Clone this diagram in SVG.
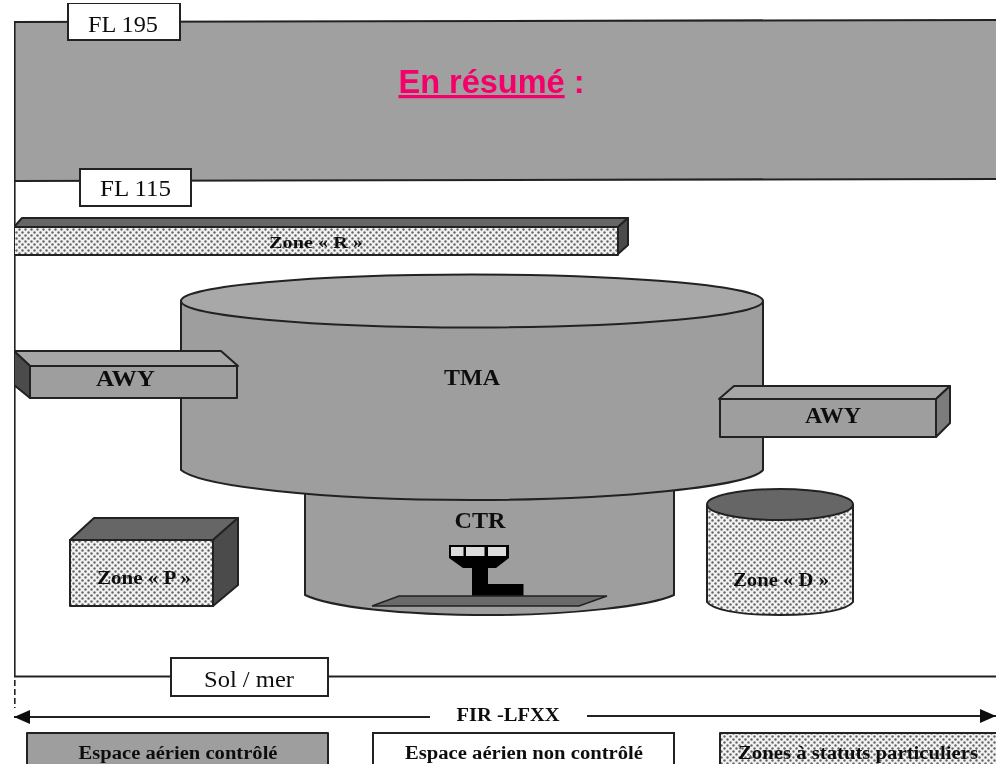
<svg xmlns="http://www.w3.org/2000/svg" width="996" height="764" viewBox="0 0 996 764">
<style>
text{font-family:"Liberation Serif",serif;fill:#111;text-anchor:middle}
.b{font-weight:bold}
.l{fill:#fff;stroke:#222;stroke-width:2}
.g{fill:#a6a6a6;stroke:#222;stroke-width:2;stroke-linejoin:round}
.d{fill:#666;stroke:#222;stroke-width:2;stroke-linejoin:round}
.k{fill:#4c4c4c;stroke:#222;stroke-width:2;stroke-linejoin:round}
.m{fill:#9e9e9e;stroke:#222;stroke-width:2;stroke-linejoin:round}
.p{fill:url(#dots);stroke:#222;stroke-width:2;stroke-linejoin:round}
.c{fill:none;stroke:#222;stroke-width:2.200}
</style>
<defs>
<pattern id="dots" width="6" height="6" patternUnits="userSpaceOnUse">
<rect width="6" height="6" fill="#f2f2f2"/>
<circle cx="1.5" cy="1.5" r="1.2" fill="#666"/>
<circle cx="4.5" cy="4.5" r="1.2" fill="#666"/>
</pattern>
<marker id="ah" markerUnits="userSpaceOnUse" markerWidth="18" markerHeight="16" refX="16" refY="7" orient="auto-start-reverse">
<path d="M0 0L16 7L0 14Z" fill="#111"/>
</marker>
<filter id="soft" x="0" y="0" width="100%" height="100%"><feGaussianBlur stdDeviation="0.45"/></filter>
</defs>
<rect width="996" height="764" fill="#fff"/>
<g filter="url(#soft)">
<g id="upper-airspace">
<path d="M14 22L996 20V179L14 181Z" fill="#a0a0a0"/>
<path class="c" d="M14.500 677V22L996 20M14 181L996 179"/>
<path d="M14.500 680V708" fill="none" stroke="#222" stroke-width="2.200" stroke-dasharray="6 3"/>
</g>

<g id="connectors">
<path class="c" d="M14 676.500H996"/>
<path class="c" d="M430 717H14" marker-end="url(#ah)"/>
<path class="c" d="M587 716H996" marker-end="url(#ah)"/>
</g>

<g id="title"><text x="491.500" y="93" style="font-family:'Liberation Sans',sans-serif;font-weight:bold;font-size:32.500px;fill:#f5006a"><tspan text-decoration="underline">En résumé</tspan> :</text></g>

<g id="fl195"><rect class="l" x="68" y="3" width="112" height="37"/><text x="123" y="31.500" font-size="23" textLength="70" lengthAdjust="spacingAndGlyphs">FL 195</text></g>
<g id="fl115"><rect class="l" x="80" y="169" width="111" height="37"/><text x="135.500" y="196" font-size="23" textLength="71" lengthAdjust="spacingAndGlyphs">FL 115</text></g>

<g id="zone-r">
<path class="d" d="M14 227L22 218H628L618 227Z"/>
<path class="k" d="M618 227L628 218V245L618 254Z"/>
<rect class="p" x="14" y="227" width="604" height="28"/>
<text class="b" x="316" y="247.500" font-size="16.500" textLength="94" lengthAdjust="spacingAndGlyphs">Zone « R »</text>
</g>

<g id="ctr">
<path class="m" d="M305 480V595C330 607 400 615 490 615C570 615 650 606 674 595V480Z"/>
<text class="b" x="480" y="527.500" font-size="23" textLength="51" lengthAdjust="spacingAndGlyphs">CTR</text>
<g id="tower">
<path d="M449 545H509V558L496 568H488V584H523.500V597H472V568H463L449 558Z" fill="#050505"/>
<rect x="451" y="547" width="12.500" height="9" fill="#ddd"/>
<rect x="466" y="547" width="18.500" height="9" fill="#ddd"/>
<rect x="488" y="547" width="18" height="9" fill="#ddd"/>
</g>
<path d="M372 606L399 596H607L579 606Z" fill="#6a6a6a" stroke="#222" stroke-width="1.500"/>
</g>

<g id="tma">
<path class="m" d="M181 301V470C200 486 320 500 472 500C620 500 750 486 763 470V301Z"/>
<ellipse cx="472" cy="301" rx="291" ry="26.500" fill="#a8a8a8" stroke="#222" stroke-width="2"/>
<text class="b" x="472" y="385" font-size="23" textLength="56" lengthAdjust="spacingAndGlyphs">TMA</text>
</g>

<g id="awy-left">
<path class="g" d="M14 351H221L238 366H30Z"/>
<path class="k" d="M14 351L30 366V398L14 385Z"/>
<rect class="m" x="30" y="366" width="207" height="32"/>
<text class="b" x="125.500" y="385.500" font-size="23" textLength="59" lengthAdjust="spacingAndGlyphs">AWY</text>
</g>

<g id="awy-right">
<path class="g" d="M719 399L734 386H950L936 399Z"/>
<path class="d" d="M936 399L950 386V423L936 437Z" style="fill:#7c7c7c"/>
<rect class="m" x="720" y="399" width="216" height="38"/>
<text class="b" x="833" y="423" font-size="23" textLength="56" lengthAdjust="spacingAndGlyphs">AWY</text>
</g>

<g id="zone-p">
<path class="d" d="M70 540L94 518H238L213 540Z"/>
<path class="k" d="M213 540L238 518V585L213 606Z"/>
<rect class="p" x="70" y="540" width="143" height="66"/>
<text class="b" x="144" y="584" font-size="18.500" textLength="94" lengthAdjust="spacingAndGlyphs">Zone « P »</text>
</g>

<g id="zone-d">
<path class="p" d="M707 505V602C712 609 735 615 780 615C825 615 848 609 853 602V505Z"/>
<ellipse cx="780" cy="504.500" rx="73" ry="15.500" class="d"/>
<text class="b" x="781" y="586" font-size="18.500" textLength="96" lengthAdjust="spacingAndGlyphs">Zone « D »</text>
</g>

<g id="sol-mer"><rect class="l" x="171" y="658" width="157" height="38"/><text x="249" y="686.500" font-size="23" textLength="90" lengthAdjust="spacingAndGlyphs">Sol / mer</text></g>
<g id="fir"><text class="b" x="508" y="720.500" font-size="19" textLength="103" lengthAdjust="spacingAndGlyphs">FIR -LFXX</text></g>

<g id="legend-controle"><rect class="m" x="27" y="733" width="301" height="40"/><text class="b" x="178" y="758.500" font-size="18" textLength="199" lengthAdjust="spacingAndGlyphs">Espace aérien contrôlé</text></g>
<g id="legend-non-controle"><rect class="l" x="373" y="733" width="301" height="40"/><text class="b" x="524" y="758.500" font-size="18" textLength="238" lengthAdjust="spacingAndGlyphs">Espace aérien non contrôlé</text></g>
<g id="legend-particuliers"><rect class="p" x="720" y="733" width="285" height="40"/><text class="b" x="858" y="758.500" font-size="18" textLength="240" lengthAdjust="spacingAndGlyphs">Zones à statuts particuliers</text></g>
</g>
</svg>
